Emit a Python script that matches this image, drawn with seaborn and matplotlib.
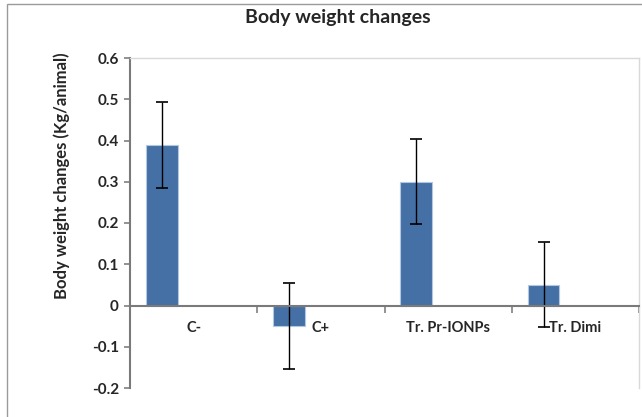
import numpy as np
import matplotlib
matplotlib.use("Agg")
import matplotlib.pyplot as plt
import matplotlib.patches as mpatches
import seaborn as sns

# data
groups = ["C-", "C+", "Tr. Pr-IONPs", "Tr. Dimi"]
weight_change = [0.39, -0.05, 0.30, 0.05]
weight_err = [0.104, 0.104, 0.103, 0.103]
yticks = [-0.2, -0.1, 0, 0.1, 0.2, 0.3, 0.4, 0.5, 0.6]

sns.set_style("white")
plt.rcParams["font.family"] = ["Lato", "DejaVu Sans"]
plt.rcParams["font.weight"] = "bold"

fig = plt.figure(figsize=(6.42, 4.17), dpi=100)
ax = fig.add_axes([130 / 642, 1 - 388 / 417, 509 / 642, 330 / 417])

bar_color = "#4470a6"
sns.barplot(x=groups, y=weight_change, color=bar_color, width=0.25,
            edgecolor="#b4c7e0", linewidth=0.8, saturation=1, ax=ax)

# Excel-style: bar sits in the left half of each category slot
offset = -0.25
for p in ax.patches:
    p.set_x(p.get_x() + offset)

pos = np.arange(len(groups)) + offset
ax.errorbar(pos, weight_change, yerr=weight_err, fmt="none",
            ecolor="black", elinewidth=1, capsize=4.5, capthick=1.2)

ax.set_xlim(-0.5, len(groups) - 0.5)
ax.set_ylim(-0.2, 0.6)

# y axis
ax.set_yticks(yticks)
ax.set_yticklabels([f"{v:g}" for v in yticks], fontsize=11, fontweight="bold")
ax.tick_params(axis="y", direction="out", length=4, width=1.2,
               color="#808080", pad=4, left=True)

# x axis on the zero line, ticks at category boundaries
ax.spines["bottom"].set_position(("data", 0))
ax.set_xticks(np.arange(len(groups) + 1) - 0.5)
ax.set_xticklabels([])
ax.tick_params(axis="x", which="major", direction="out", length=5, width=1.2,
               color="#808080", bottom=True)
ax.set_xticks(np.arange(len(groups)), minor=True)
ax.set_xticklabels(groups, minor=True, fontsize=10.5, fontweight="bold")
ax.tick_params(axis="x", which="minor", length=0, pad=11)

for side in ["left", "bottom"]:
    ax.spines[side].set_color("#7a7a7a")
    ax.spines[side].set_linewidth(1.5)
for side in ["top", "right"]:
    ax.spines[side].set_color("#d9d9d9")
    ax.spines[side].set_linewidth(1)

ax.set_xlabel("")
ax.set_ylabel("")

fig.text(62 / 642, 1 - 176 / 417, "Body weight changes (Kg/animal)",
         rotation=90, ha="center", va="center", fontsize=12, fontweight="bold")
fig.text(338 / 642, 1 - 18 / 417, "Body weight changes",
         ha="center", va="center", fontsize=14, fontweight="bold")

# outer chart frame (cropped on the right and bottom)
frame = mpatches.Rectangle((7 / 642, -0.2), 2, 1.2 - 4 / 417,
                           transform=fig.transFigure, fill=False,
                           edgecolor="#9a9a9a", linewidth=1)
fig.patches.append(frame)

fig.savefig("out.png", dpi=100)
